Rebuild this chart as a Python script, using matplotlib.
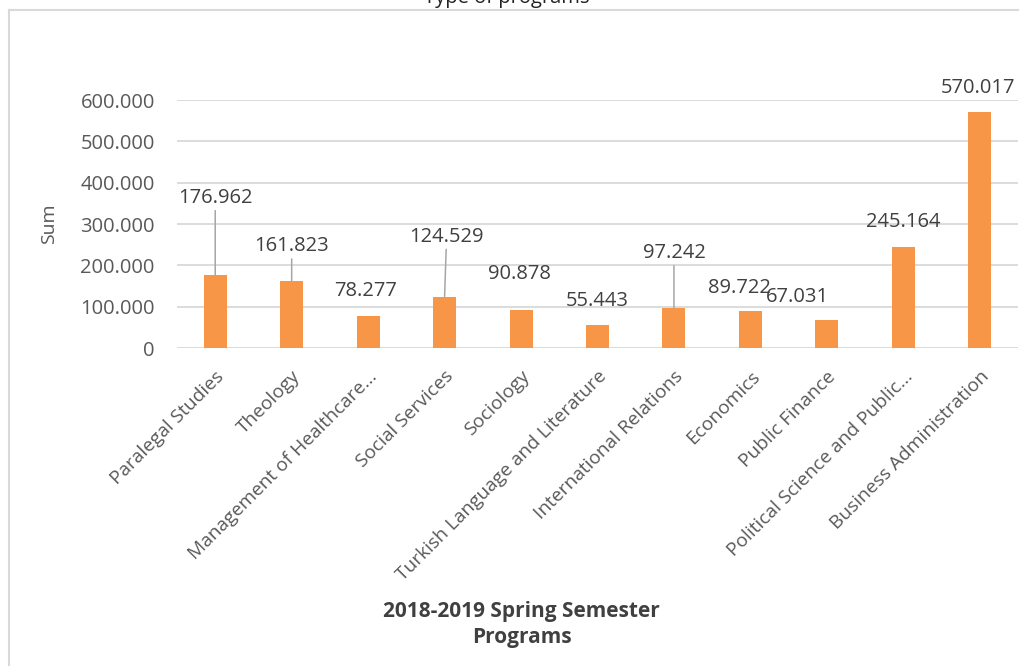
import matplotlib
matplotlib.use("Agg")
import matplotlib.pyplot as plt
from matplotlib.lines import Line2D
from matplotlib.ticker import FuncFormatter

# data
programs = ["Paralegal Studies", "Theology", "Management of Healthcare...",
            "Social Services", "Sociology", "Turkish Language and Literature",
            "International Relations", "Economics", "Public Finance",
            "Political Science and Public...", "Business Administration"]
sums = [176.962, 161.823, 78.277, 124.529, 90.878, 55.443,
        97.242, 89.722, 67.031, 245.164, 570.017]
value_labels = ["176.962", "161.823", "78.277", "124.529", "90.878", "55.443",
                "97.242", "89.722", "67.031", "245.164", "570.017"]
yticks = [0, 100, 200, 300, 400, 500, 600]

# label placement (pixels from bar top) and which get a leader line
label_dx = [0, 0, -3, 2, -2, 0, 0, -11, -29, 0, -2]
label_dy = [77, 35, 25, 60, 36, 24, 55, 23, 23, 25, 24]
leader = [True, True, False, True, False, False, True, False, False, False, False]

BAR = "#F79646"
GRID = "#D9D9D9"
TXT = "#595959"
VAL = "#404040"
FONT = ["Open Sans", "DejaVu Sans"]

plt.rcParams['font.family'] = FONT

fig = plt.figure(figsize=(10.3, 6.66), dpi=100)
ax = fig.add_axes([177 / 1030, 1 - 348 / 666, 841 / 1030, 248 / 666])

x = range(len(programs))
ax.bar(x, sums, width=0.3, color=BAR, zorder=3)

ax.set_xlim(-0.5, len(programs) - 0.5)
ax.set_ylim(0, 600)
ax.set_yticks(yticks)
ax.yaxis.set_major_formatter(FuncFormatter(lambda v, p: "0" if v == 0 else f"{int(v)}.000"))
ax.grid(axis="y", color=GRID, linewidth=1.3, zorder=0)
ax.grid(axis="x", visible=False)
for s in ax.spines.values():
    s.set_visible(False)
ax.tick_params(axis="y", length=0, pad=16, labelsize=14.5, labelcolor=TXT)
ax.tick_params(axis="x", length=0, pad=14, labelsize=13.8, labelcolor=TXT)
ax.set_xticks(list(x))
ax.set_xticklabels(programs, rotation=45, ha="right", rotation_mode="anchor")

ax.set_ylabel("Sum", fontsize=14, color=TXT, labelpad=16)
ax.set_xlabel("2018-2019 Spring Semester\nPrograms", fontsize=15, color="#404040",
              fontweight="bold", linespacing=1.3)
ax.xaxis.set_label_coords(0.41, -1.02)

for i, v in enumerate(sums):
    props = None
    if leader[i]:
        props = dict(arrowstyle="-", color="#A6A6A6", lw=1.1, shrinkA=0, shrinkB=0)
    ax.annotate(value_labels[i], xy=(i, v),
                xytext=(label_dx[i] * 0.72, label_dy[i] * 0.72),
                textcoords="offset points", ha="center", va="center",
                fontsize=14.5, color=VAL, annotation_clip=False,
                arrowprops=props)

# chart frame (left + top) and the clipped title
fig.add_artist(Line2D([9 / 1030, 9 / 1030], [0, 1 - 10 / 666],
                      transform=fig.transFigure, color=GRID, lw=1.5))
fig.add_artist(Line2D([9 / 1030, 1018 / 1030], [1 - 10 / 666, 1 - 10 / 666],
                      transform=fig.transFigure, color=GRID, lw=1.5))
fig.text(507 / 1030, 1 - 3 / 666, "Type of programs", ha="center", va="baseline",
         fontsize=14.5, color="#222222")

fig.savefig("out.png", dpi=100)
